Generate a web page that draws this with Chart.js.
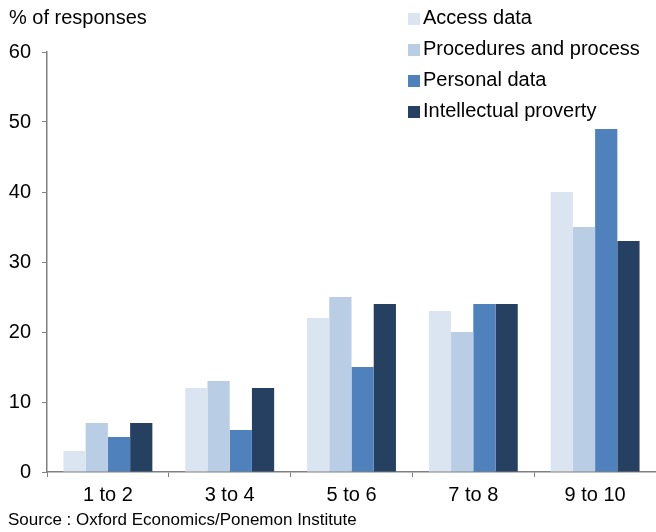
<!DOCTYPE html>
<html>
<head>
<meta charset="utf-8">
<script src="https://cdn.jsdelivr.net/npm/chart.js@4"></script>
<style>
    html, body { margin: 0; padding: 0; background: #fff; }
    #wrap { width: 656px; height: 532px; position: relative; }
</style>
</head>
<body>
<div id="wrap"><canvas id="graficoBarras" width="656" height="532"></canvas></div>
<script>
const categorias = ['1 to 2', '3 to 4', '5 to 6', '7 to 8', '9 to 10'];
const series = ['Access data', 'Procedures and process', 'Personal data', 'Intellectual proverty'];
const accessData = [3, 12, 22, 23, 40];
const procedures = [7, 13, 25, 20, 35];
const personalData = [5, 6, 15, 24, 49];
const intellectual = [7, 12, 24, 24, 33];
const cores = ['#dbe5f1', '#b9cde5', '#4f81bd', '#254061'];
const yTicks = [0, 10, 20, 30, 40, 50, 60];

const fonte = 'Liberation Sans, Arial, sans-serif';

// legenda, titulo do eixo e fonte desenhados a mao
const textos = {
    id: 'textos',
    afterDraw(chart) {
        const ctx = chart.ctx;
        ctx.save();
        ctx.fillStyle = '#000';
        ctx.textBaseline = 'middle';
        ctx.textAlign = 'left';
        ctx.font = '20px ' + fonte;
        ctx.fillText('% of responses', 9, 18);

        chart.data.datasets.forEach((ds, i) => {
            const y = 18 + i * 31;
            ctx.fillStyle = ds.backgroundColor;
            ctx.fillRect(408, y - 5, 12, 12);
            ctx.fillStyle = '#000';
            ctx.fillText(ds.label, 423, y);
        });

        ctx.font = '17px ' + fonte;
        ctx.fillText('Source : Oxford Economics/Ponemon Institute', 8, 520);
        ctx.restore();
    }
};

const canvasContext = document.getElementById('graficoBarras').getContext('2d');
new Chart(canvasContext, {
    type: 'bar',
    data: {
        labels: categorias,
        datasets: [accessData, procedures, personalData, intellectual].map((valores, i) => ({
            label: series[i],
            data: valores,
            backgroundColor: cores[i],
            borderWidth: 0,
            categoryPercentage: 0.73,
            barPercentage: 1.0
        }))
    },
    options: {
        responsive: false,
        animation: false,
        layout: { padding: { top: 52, right: 0, left: 0, bottom: 0 } },
        plugins: {
            legend: { display: false },
            tooltip: { enabled: false }
        },
        scales: {
            x: {
                grid: {
                    offset: true,
                    drawOnChartArea: false,
                    drawTicks: true,
                    tickLength: 5,
                    color: '#808080'
                },
                border: { color: '#808080', width: 1.5 },
                ticks: {
                    color: '#000',
                    padding: 6,
                    font: { family: fonte, size: 20 }
                },
                afterFit: (scale) => { scale.height = 60; }
            },
            y: {
                min: 0,
                max: 60,
                afterBuildTicks: (scale) => { scale.ticks = yTicks.map(v => ({ value: v })); },
                grid: {
                    drawOnChartArea: false,
                    tickLength: 5,
                    color: '#808080'
                },
                border: { color: '#808080', width: 1.5 },
                ticks: {
                    color: '#000',
                    padding: 11,
                    font: { family: fonte, size: 20 }
                },
                afterFit: (scale) => { scale.width = 47; }
            }
        }
    },
    plugins: [textos]
});
</script>
</body>
</html>
